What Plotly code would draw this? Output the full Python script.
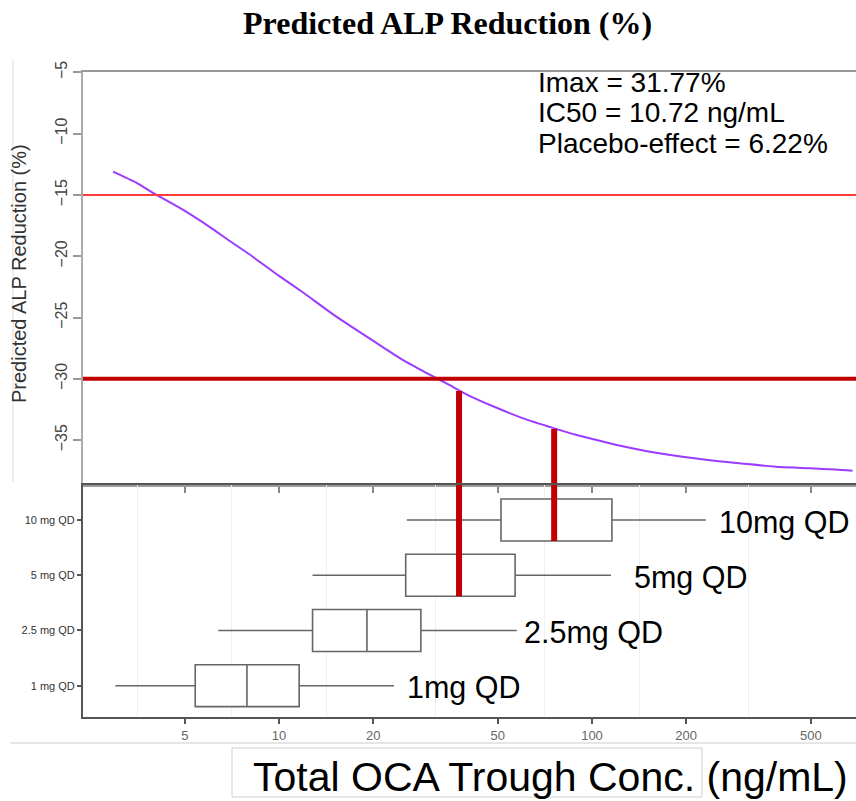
import math
import plotly.graph_objects as go

# ---------------- data ----------------
# model curve (concentration ng/mL, predicted ALP reduction %)
curve_conc = [2.95, 3.5, 4, 5, 6, 7, 8, 10, 12, 15, 20, 25, 30, 35, 40, 50, 60, 75,
              90, 100, 120, 150, 200, 250, 300, 400, 500, 600, 680]
curve_effect = [-13.1, -14.0, -14.9, -16.3, -17.6, -18.8, -19.8, -21.6, -23.0, -24.8,
                -26.9, -28.5, -29.6, -30.5, -31.3, -32.4, -33.2, -34.0, -34.6, -34.9,
                -35.4, -35.9, -36.4, -36.7, -36.9, -37.2, -37.3, -37.4, -37.5]

# reference thresholds
threshold_light = -15
threshold_dark = -30

# dose groups (box plots of trough concentration)
dose_ticks = ["1 mg QD", "2.5 mg QD", "5 mg QD", "10 mg QD"]
dose_labels = ["1mg QD", "2.5mg QD", "5mg QD", "10mg QD"]
box_low = [3.0, 6.4, 12.8, 25.6]
box_q1 = [5.4, 12.8, 25.4, 51.2]
box_median = [7.9, 19.1, 37.6, 75.7]
box_q3 = [11.6, 28.4, 56.8, 115.8]
box_high = [23.3, 57.5, 115.0, 231.0]
label_x = [25.3, 59.7, 134.0, 251.0]

# marker lines from median concentration up to the curve (5 mg and 10 mg)
marker_dose_index = [2, 3]
marker_effect = [-31.0, -34.1]

param_text = ["Imax = 31.77%", "IC50 = 10.72 ng/mL", "Placebo-effect = 6.22%"]

x_ticks = [5, 10, 20, 50, 100, 200, 500]
y_ticks = [-35, -30, -25, -20, -15, -10, -5]
minor_grid = [3.54, 7.07, 14.14, 31.62, 70.71, 141.4, 316.2]

# ---------------- layout geometry ----------------
W, H = 856, 801
L, R, T, B = 83, 0, 72, 84
PW, PH = W - L - R, H - T - B
split = (717 - 485) / PH
BOX_W = 0.76
SANS = "Liberation Sans, Arial, sans-serif"


def px_x(px):
    return (px - L) / PW


def px_y(py):
    return (H - B - py) / PH


pos = list(range(len(dose_ticks)))

fig = go.Figure()

# curve
fig.add_trace(go.Scatter(x=curve_conc, y=curve_effect, mode="lines",
                         line=dict(color="#9b3bff", width=2, shape="spline", smoothing=0.6),
                         xaxis="x", yaxis="y", showlegend=False, hoverinfo="skip"))

# boxes
fig.add_trace(go.Box(y=pos, q1=box_q1, median=box_median, q3=box_q3,
                     lowerfence=box_low, upperfence=box_high,
                     orientation="h", width=BOX_W, whiskerwidth=0,
                     fillcolor="white", line=dict(color="#666666", width=1.6),
                     xaxis="x2", yaxis="y2", showlegend=False, boxpoints=False))

# red marker lines
for idx, eff in zip(marker_dose_index, marker_effect):
    c = box_median[idx]
    fig.add_trace(go.Scatter(x=[c, c], y=[eff, -45], mode="lines",
                             line=dict(color="#c00000", width=6),
                             xaxis="x", yaxis="y", showlegend=False, hoverinfo="skip"))
    fig.add_trace(go.Scatter(x=[c, c], y=[5, pos[idx] - BOX_W / 2], mode="lines",
                             line=dict(color="#c00000", width=6),
                             xaxis="x2", yaxis="y2", showlegend=False, hoverinfo="skip"))

shapes = [
    dict(type="line", xref="x domain", yref="y", x0=0, x1=1,
         y0=threshold_light, y1=threshold_light, line=dict(color="#ff3b3b", width=2)),
    dict(type="line", xref="x domain", yref="y", x0=0, x1=1,
         y0=threshold_dark, y1=threshold_dark, line=dict(color="#c00000", width=4)),
    # decorative frame pieces of the original slide
    dict(type="line", xref="paper", yref="paper", x0=px_x(13), x1=px_x(13),
         y0=px_y(60), y1=px_y(482), line=dict(color="#dddddd", width=1)),
    dict(type="line", xref="paper", yref="paper", x0=px_x(10), x1=px_x(856),
         y0=px_y(743), y1=px_y(743), line=dict(color="#cccccc", width=1)),
    dict(type="rect", xref="paper", yref="paper", x0=px_x(232), x1=px_x(702),
         y0=px_y(797), y1=px_y(748), line=dict(color="#cfcfcf", width=1)),
]

annotations = [
    dict(text="<b>Predicted ALP Reduction (%)</b>", xref="paper", yref="paper",
         x=px_x(447), y=px_y(23), xanchor="center", yanchor="middle", showarrow=False,
         font=dict(family="Liberation Serif, Times New Roman, serif", size=32, color="black")),
    dict(text="Predicted ALP Reduction (%)", xref="paper", yref="paper",
         x=px_x(19), y=px_y(274), xanchor="center", yanchor="middle", showarrow=False,
         textangle=-90, font=dict(family=SANS, size=20, color="#333333")),
    dict(text="Total OCA Trough Conc. (ng/mL)", xref="paper", yref="paper",
         x=px_x(251), y=px_y(777), xanchor="left", yanchor="middle", showarrow=False,
         font=dict(family=SANS, size=41, color="black")),
]
for i, t in enumerate(param_text):
    annotations.append(dict(text=t, xref="paper", yref="paper",
                            x=px_x(536), y=px_y(83 + 30 * i), xanchor="left",
                            yanchor="middle", showarrow=False,
                            font=dict(family=SANS, size=28, color="black")))
for p, lab, lx in zip(pos, dose_labels, label_x):
    annotations.append(dict(text=lab, xref="x2", yref="y2", x=math.log10(lx), y=p,
                            xanchor="left", yanchor="middle", showarrow=False,
                            yshift=-2,
                            font=dict(family=SANS, size=30.5, color="black")))

xr = [0.3738, 2.8435]
fig.update_layout(
    width=W, height=H, margin=dict(l=L, r=R, t=T, b=B),
    paper_bgcolor="white", plot_bgcolor="white",
    showlegend=False, shapes=shapes, annotations=annotations,
    xaxis=dict(type="log", range=xr, domain=[0, 1], anchor="y",
               tickvals=x_ticks, showticklabels=False, ticks="outside", ticklen=6,
               tickcolor="#888888", tickwidth=1.5,
               showline=True, linecolor="#999999", linewidth=1.5, mirror=True,
               showgrid=False, zeroline=False),
    yaxis=dict(domain=[split, 1], range=[-38.66, -4.97], anchor="x",
               tickvals=y_ticks, ticks="outside", ticklen=8, tickcolor="#999999",
               tickwidth=1.5, tickangle=-90,
               tickfont=dict(family=SANS, size=16, color="#444444"),
               showline=True, linecolor="#aaaaaa", linewidth=1.5,
               showgrid=False, zeroline=False),
    xaxis2=dict(type="log", range=xr, domain=[0, 1], anchor="y2", matches="x",
                tickvals=x_ticks, ticks="outside", ticklen=5, tickcolor="#555555",
                tickwidth=1.5,
                tickfont=dict(family=SANS, size=13, color="#666666"),
                showline=True, linecolor="#555555", linewidth=2, mirror=True,
                showgrid=False, zeroline=False,
                minor=dict(tickvals=minor_grid, showgrid=True, gridcolor="#f0f0f0",
                           gridwidth=1, ticks="")),
    yaxis2=dict(domain=[0, split], range=[-0.567, 3.634], anchor="x2",
                tickvals=pos, ticktext=dose_ticks, ticks="outside", ticklen=4,
                tickcolor="#555555", tickwidth=1.5,
                tickfont=dict(family=SANS, size=11, color="#333333"),
                showline=True, linecolor="#555555", linewidth=2,
                showgrid=False, zeroline=False),
)

fig.write_html("out.html")
